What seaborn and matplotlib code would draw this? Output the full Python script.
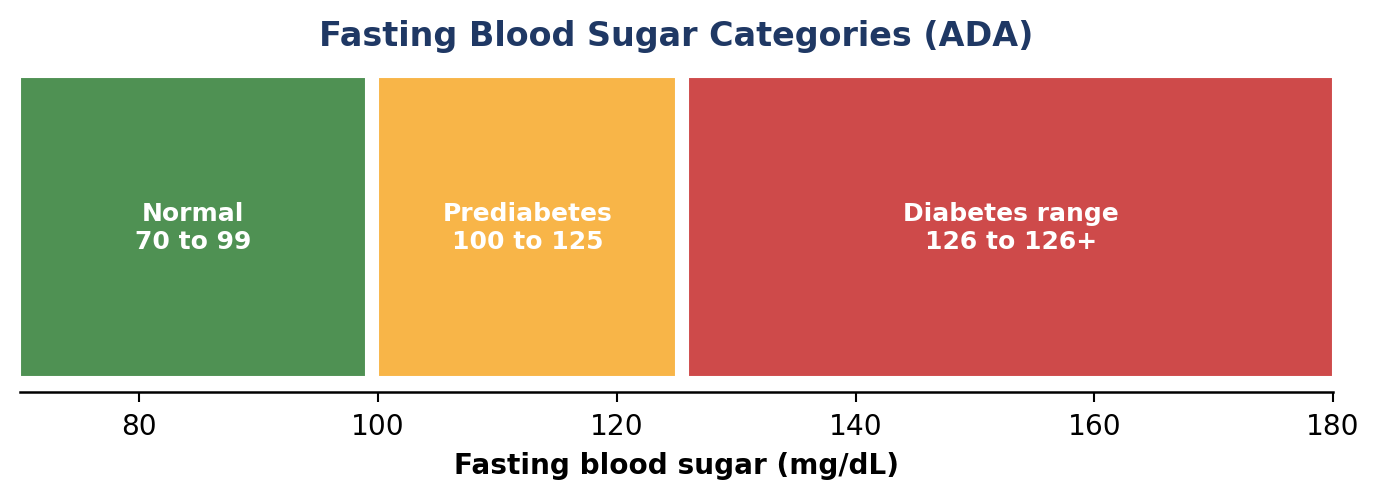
import matplotlib
matplotlib.use("Agg")
import matplotlib.pyplot as plt
import seaborn as sns

categories = ["Normal", "Prediabetes", "Diabetes range"]
starts = [70, 100, 126]
ends = [99, 125, 180]
range_labels = ["70 to 99", "100 to 125", "126 to 126+"]
colors = ["#4f9153", "#f8b548", "#ce4a4a"]

sns.set_theme(style="white")
plt.rcParams["font.family"] = ["DejaVu Sans"]
plt.rcParams["text.color"] = "black"
plt.rcParams["axes.labelcolor"] = "black"
plt.rcParams["xtick.color"] = "black"

fig, ax = plt.subplots(figsize=(9.2, 3.3267), dpi=150)
fig.subplots_adjust(left=20 / 1380, right=1333 / 1380, top=1 - 77 / 499, bottom=1 - 392 / 499)

widths = [e - s for s, e in zip(starts, ends)]
ax.barh([0] * len(categories), widths, left=starts, height=1.0, color=colors, align="edge")

for cat, s, e, lab in zip(categories, starts, ends, range_labels):
    ax.text((s + e) / 2, 0.497, f"{cat}\n{lab}", ha="center", va="center",
            color="white", fontsize=12, fontweight="bold")

ax.set_xlim(70, 180)
ax.set_ylim(-0.05, 1.0)
ax.set_yticks([])
ax.set_xticks([80, 100, 120, 140, 160, 180])
ax.tick_params(axis="x", labelsize=13.5, length=5, width=1, color="black", bottom=True, pad=5)
sns.despine(ax=ax, left=True)
ax.spines["bottom"].set_color("black")
ax.spines["bottom"].set_linewidth(1.2)

ax.set_xlabel("Fasting blood sugar (mg/dL)", fontsize=13.4, fontweight="bold", labelpad=5.5)
ax.set_title("Fasting Blood Sugar Categories (ADA)", fontsize=16, fontweight="bold",
             color="#1f3864", pad=15)

fig.savefig("out.png", dpi=150)
